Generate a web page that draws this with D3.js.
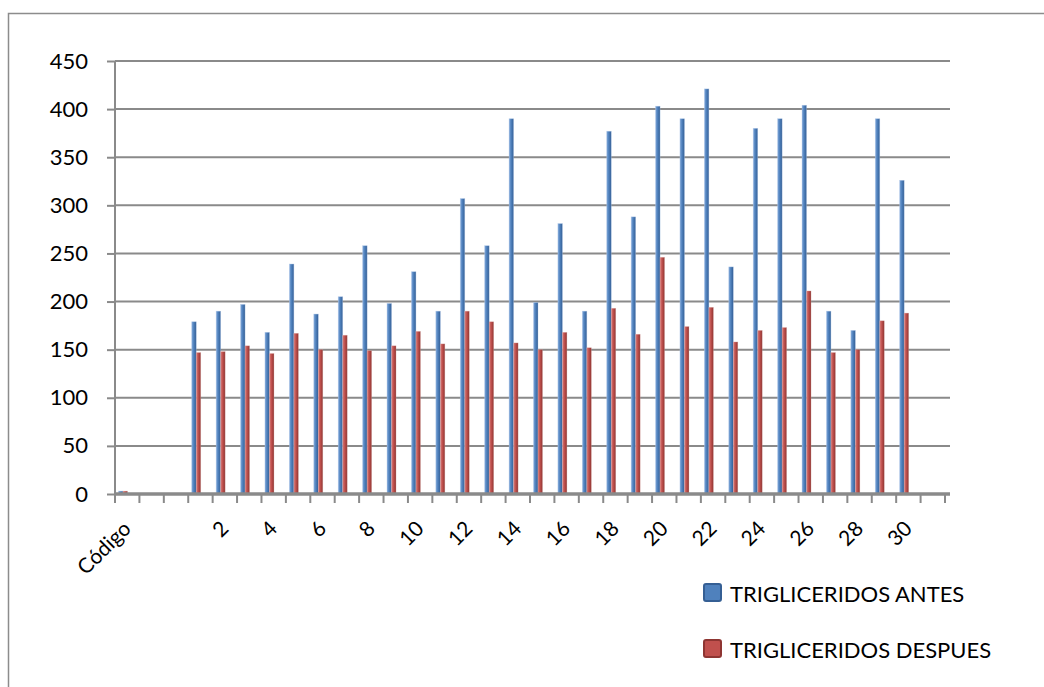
<!DOCTYPE html>
<html>
<head>
<meta charset="utf-8">
<script src="https://cdn.jsdelivr.net/npm/d3@7"></script>
<style>
  body { margin: 0; background: #fff; }
  svg { display: block; font-family: Lato, "Open Sans", sans-serif; }
</style>
</head>
<body>
<div id="chart"></div>
<script>
const width = 1044;
const height = 687;

// categories along the x axis (first one is the header cell, then two empty rows)
const categories = ['Código', '', '',
    '1', '2', '3', '4', '5', '6', '7', '8', '9', '10',
    '11', '12', '13', '14', '15', '16', '17', '18', '19', '20',
    '21', '22', '23', '24', '25', '26', '27', '28', '29', '30', ''];

const antes = [3, null, null,
    179, 190, 197, 168, 239, 187, 205, 258, 198, 231,
    190, 307, 258, 390, 199, 281, 190, 377, 288, 403,
    390, 421, 236, 380, 390, 404, 190, 170, 390, 326, null];

const despues = [3, null, null,
    147, 148, 154, 146, 167, 150, 165, 149, 154, 169,
    156, 190, 179, 157, 150, 168, 152, 193, 166, 246,
    174, 194, 158, 170, 173, 211, 147, 150, 180, 188, null];

const yTicks = [0, 50, 100, 150, 200, 250, 300, 350, 400, 450];

const series = [
    { name: 'TRIGLICERIDOS ANTES', values: antes, light: '#7fa6d8', mid: '#4f81bd', dark: '#355f94', offset: 3.5 },
    { name: 'TRIGLICERIDOS DESPUES', values: despues, light: '#d87e7b', mid: '#c0504d', dark: '#8e3532', offset: 8 }
];

const plot = { left: 115, right: 945, top: 61, bottom: 494 };
const fontFamily = 'Lato, "Open Sans", sans-serif';

const svg = d3.select('#chart').append('svg')
    .attr('width', width)
    .attr('height', height);

const defs = svg.append('defs');
series.forEach((s, i) => {
    const g = defs.append('linearGradient')
        .attr('id', 'grad' + i)
        .attr('x1', '0%').attr('x2', '100%')
        .attr('y1', '0%').attr('y2', '0%');
    g.append('stop').attr('offset', '0%').attr('stop-color', s.light);
    g.append('stop').attr('offset', '45%').attr('stop-color', s.mid);
    g.append('stop').attr('offset', '100%').attr('stop-color', s.dark);
});

// outer frame (only left and top edges are visible)
svg.append('path')
    .attr('d', `M8.5,${height + 2}V13.5H${width + 2}`)
    .attr('fill', 'none')
    .attr('stroke', '#8c8c8c')
    .attr('stroke-width', 1.5);

const x = d3.scaleBand()
    .domain(d3.range(categories.length))
    .range([plot.left, plot.right])
    .padding(0);

const y = d3.scaleLinear()
    .domain([0, 450])
    .range([plot.bottom, plot.top]);

// gridlines
svg.append('g')
    .selectAll('line')
    .data(yTicks.filter(d => d > 0))
    .enter()
    .append('line')
    .attr('x1', plot.left)
    .attr('x2', plot.right + 5)
    .attr('y1', d => y(d))
    .attr('y2', d => y(d))
    .attr('stroke', '#8a8a8a')
    .attr('stroke-width', 2);

// y axis
const yAxis = svg.append('g')
    .attr('transform', `translate(${plot.left},0)`)
    .call(d3.axisLeft(y).tickValues(yTicks).tickSize(8).tickPadding(19))
    .attr('font-family', fontFamily);
yAxis.select('.domain').attr('stroke', '#8a8a8a').attr('stroke-width', 2)
    .attr('d', `M0,${plot.top}V${plot.bottom + 8}`);
yAxis.selectAll('.tick line').attr('stroke', '#8a8a8a').attr('stroke-width', 2);
yAxis.selectAll('.tick text')
    .attr('fill', '#000')
    .style('font-size', '22px');

// bars
series.forEach((s, i) => {
    svg.append('g')
        .selectAll('rect')
        .data(s.values.map((v, j) => ({ v, j })).filter(d => d.v != null))
        .enter()
        .append('rect')
        .attr('x', d => x(d.j) + s.offset)
        .attr('y', d => y(d.v))
        .attr('width', 4.5)
        .attr('height', d => y(0) - y(d.v))
        .attr('fill', `url(#grad${i})`)
        .attr('stroke', i === 0 ? 'rgba(170,195,230,0.6)' : 'rgba(220,170,168,0.5)')
        .attr('stroke-width', 0.6);
});

// floor / x baseline
svg.append('line')
    .attr('x1', plot.left)
    .attr('x2', plot.right + 5)
    .attr('y1', y(0))
    .attr('y2', y(0))
    .attr('stroke', '#8a8a8a')
    .attr('stroke-width', 3.5);

// x tick marks at category boundaries
const bounds = d3.range(categories.length + 1).map(i => plot.left + i * x.bandwidth());
svg.append('g')
    .selectAll('line')
    .data(bounds)
    .enter()
    .append('line')
    .attr('x1', d => d).attr('x2', d => d)
    .attr('y1', y(0)).attr('y2', y(0) + 9)
    .attr('stroke', '#8a8a8a')
    .attr('stroke-width', 2);

// x labels, every other category, rotated
svg.append('g')
    .selectAll('text')
    .data(categories.map((c, i) => ({ c, i })).filter(d => d.i % 2 === 0 && d.c !== ''))
    .enter()
    .append('text')
    .attr('transform', d => `translate(${x(d.i) + x.bandwidth() / 2 + 5},530) rotate(-45)`)
    .attr('text-anchor', 'end')
    .style('font-size', '21px')
    .attr('fill', '#000')
    .text(d => d.c);

// legend
const legend = svg.append('g').attr('transform', 'translate(703,583)');
series.forEach((s, i) => {
    const row = legend.append('g').attr('transform', `translate(0,${i * 56})`);
    row.append('rect')
        .attr('x', 1).attr('y', 1)
        .attr('width', 17).attr('height', 17)
        .attr('rx', 2)
        .attr('fill', s.mid)
        .attr('stroke', s.dark)
        .attr('stroke-width', 2);
    row.append('text')
        .attr('x', 27)
        .attr('y', 19)
        .style('font-size', '22px')
        .attr('fill', '#000')
        .text(s.name);
});
</script>
</body>
</html>
